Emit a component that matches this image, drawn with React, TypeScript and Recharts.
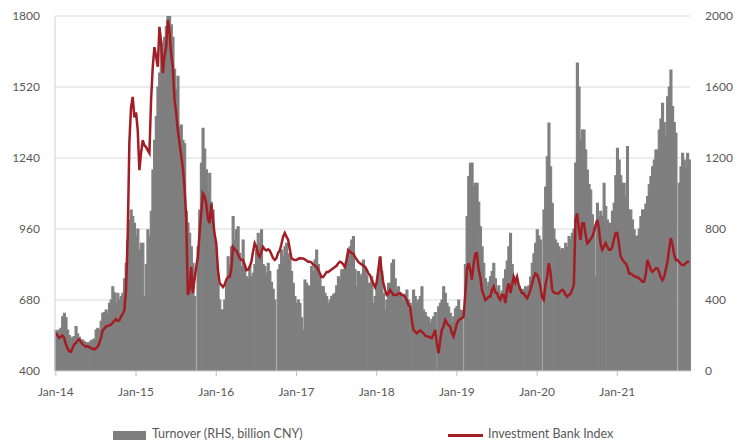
import { ComposedChart, Bar, Line, XAxis, YAxis, CartesianGrid } from "recharts";

// four readings per month (roughly weekly), Jan-14 .. Nov-21
const MONTHS = ["Jan", "Feb", "Mar", "Apr", "May", "Jun", "Jul", "Aug", "Sep", "Oct", "Nov", "Dec"];
const YEARS = ["14", "15", "16", "17", "18", "19", "20", "21"];

// turnover, billion CNY (right axis); null = market holiday gap
const turnover2014 = [230, 220, 231, 240, 306, 325, 300, 231, 200, 175, 190, 194, 250, 210, 190, 175, 175, 165, 160, 156, 160, 170, 175, 180, 231, 240, 231, 280, 325, 330, 344, 320, 381, 400, 475, 440, 381, 438, 400, 420, 438, 520, 607, 738, 850, 907, 870, 832];
const turnover2015 = [757, 800, 682, 720, 720, 419, 600, 795, 760, 900, 1132, 1300, 1433, 1600, 1678, 1847, 1700, 1880, 1940, 2000, 2000, 1950, 1880, 1700, 1585, 1660, 1375, 1385, 1300, 1280, 900, 833, 776, 700, 607, 419, null, 700, 907, 1170, 1367, 1250, 1133, 1000, 1114, 950, 907, 738];
const turnover2016 = [650, 494, 400, 344, 344, 400, 494, 644, 600, 700, 870, 738, 795, 813, 663, 588, 738, 588, 531, 520, 588, 530, 550, 600, 683, 776, 720, 795, 600, 588, 550, 607, 560, 500, 460, 400, null, 570, 600, 682, 645, 700, 720, 660, 626, 560, 494, 420];
const turnover2017 = [381, 400, 380, 300, 231, 513, 494, 480, 475, 588, 560, 625, 682, 600, 531, 475, 475, 438, 420, 381, 400, 419, 430, 438, 480, 531, 513, 570, 570, 588, 620, 663, 700, 738, 757, 570, 475, 560, 531, 545, 625, 570, 540, 494, 494, 531, 381, 420];
const turnover2018 = [494, 570, 645, 560, 438, 344, 400, 494, 494, 607, 626, 520, 456, 475, 440, 420, 400, 430, 456, 400, 381, 350, 456, 420, 381, 400, 420, 475, 344, 330, 306, 300, 268, 290, 306, 330, null, 362, 381, 400, 475, 438, 381, 360, 325, 268, 306, 350];
const turnover2019 = [363, 400, 344, 340, null, 600, 870, 1095, 1170, 1172, 1040, 1057, 1057, 950, 813, 700, 607, 520, 474, 500, 531, 560, 607, 520, 456, 480, 438, 450, 520, 570, 620, 700, 776, 600, 531, 494, 494, 480, 456, 460, 456, 475, 470, 480, 530, 607, 660, 720];
const turnover2020 = [795, 760, 738, null, 907, 1037, 1207, 1397, 1150, 945, 800, 738, 720, 700, 682, 690, 682, 720, 700, 757, 740, 776, 800, 1172, 1735, 1600, 1301, 1358, 1358, 1245, 1132, 1050, 1020, 880, 813, 531, 945, 870, 900, 870, 1057, 927, 850, 832, 832, 900, 945, 1100];
const turnover2021 = [1255, 1188, 1100, 1057, 1057, 983, 1264, 907, 907, 850, 795, 757, 760, 800, 870, 907, 907, 940, 983, 1050, 1095, 1150, 1188, 1245, 1245, 1358, 1420, 1508, 1400, 1320, 1545, 1600, 1696, 1490, 1400, 1339, null, 1057, 1150, 1226, 1188, 1132, 1226, 1188];

// investment bank index (left axis)
const bank2014 = [550, 540, 530, 535, 540, 530, 505, 490, 478, 476, 490, 505, 510, 520, 525, 515, 506, 500, 495, 498, 494, 490, 488, 485, 490, 495, 510, 530, 560, 568, 575, 578, 580, 583, 590, 598, 604, 598, 600, 615, 625, 640, 720, 930, 1300, 1440, 1481, 1400];
const bank2015 = [1420, 1350, 1192, 1260, 1310, 1290, 1283, 1270, 1259, 1470, 1600, 1677, 1640, 1600, 1757, 1700, 1575, 1640, 1677, 1784, 1740, 1650, 1600, 1470, 1420, 1350, 1300, 1250, 1200, 1126, 1007, 700, 720, 811, 707, 760, 811, 850, 944, 1020, 1100, 1090, 1060, 1000, 983, 1060, 1000, 940];
const bank2016 = [904, 800, 747, 740, 731, 740, 760, 771, 771, 800, 889, 880, 875, 860, 845, 838, 838, 820, 798, 800, 811, 830, 870, 904, 890, 860, 850, 870, 889, 880, 875, 880, 875, 860, 845, 838, 845, 865, 875, 900, 930, 944, 930, 918, 880, 844, 840, 838];
const bank2017 = [838, 842, 845, 844, 844, 840, 836, 831, 831, 828, 820, 815, 811, 800, 785, 771, 771, 780, 790, 790, 795, 800, 805, 810, 815, 825, 831, 828, 820, 811, 840, 877, 870, 865, 863, 850, 840, 830, 825, 820, 815, 811, 800, 785, 778, 760, 745, 731];
const bank2018 = [750, 800, 850, 790, 747, 720, 700, 705, 720, 710, 700, 700, 700, 705, 707, 700, 700, 690, 680, 660, 654, 600, 562, 555, 549, 555, 560, 555, 549, 540, 536, 536, 532, 530, 545, 562, 510, 470, 520, 562, 575, 601, 590, 580, 575, 550, 536, 560];
const bank2019 = [588, 600, 605, 608, 614, 700, 798, 825, 800, 760, 820, 863, 865, 800, 771, 720, 700, 680, 685, 693, 693, 720, 733, 710, 707, 690, 680, 700, 700, 668, 720, 746, 707, 740, 771, 750, 771, 740, 720, 707, 707, 695, 687, 700, 720, 746, 770, 785];
const bank2020 = [780, 760, 733, 690, 680, 740, 771, 825, 790, 720, 710, 707, 705, 707, 715, 720, 715, 700, 693, 700, 705, 720, 740, 1000, 1022, 960, 917, 983, 983, 940, 904, 910, 920, 930, 950, 975, 996, 960, 900, 878, 890, 904, 890, 878, 878, 890, 920, 944];
const bank2021 = [944, 900, 852, 840, 830, 825, 810, 785, 785, 780, 775, 771, 771, 765, 760, 752, 752, 780, 838, 820, 800, 791, 798, 805, 805, 790, 770, 758, 770, 800, 831, 880, 924, 900, 860, 838, 838, 830, 822, 818, 818, 825, 831, 831];

const turnover = [...turnover2014, ...turnover2015, ...turnover2016, ...turnover2017, ...turnover2018, ...turnover2019, ...turnover2020, ...turnover2021];
const bankIndex = [...bank2014, ...bank2015, ...bank2016, ...bank2017, ...bank2018, ...bank2019, ...bank2020, ...bank2021];

const periods: string[] = [];
YEARS.forEach((yy) => MONTHS.forEach((m) => [0, 1, 2, 3].forEach((q) => periods.push(`${m}-${yy}-${q}`))));

const data = bankIndex.map((v, i) => ({ key: periods[i], bank: v, turnover: turnover[i] }));
const janTicks = YEARS.map((yy) => `Jan-${yy}-0`);

const leftTicks = [400, 680, 960, 1240, 1520, 1800];
const rightTicks = [0, 400, 800, 1200, 1600, 2000];

const GRAY = "#7f7f7f";
const RED = "#a31d24";
const TEXT = "#595959";
const FONT = "Lato, 'Open Sans', sans-serif";

const App = () => {
  const tickStyle = { fill: TEXT, fontSize: 12, fontFamily: FONT };
  return (
    <div style={{ position: "relative", width: 738, height: 443, background: "#fff" }}>
      <style>{"body{margin:0}"}</style>
      <ComposedChart
        width={738}
        height={443}
        data={data}
        margin={{ top: 16, right: 0, bottom: 42, left: 0 }}
        barCategoryGap={0}
        barGap={0}
      >
        <CartesianGrid yAxisId="left" vertical={false} stroke="#d9d9d9" />
        <XAxis
          dataKey="key"
          ticks={janTicks}
          interval={0}
          height={30}
          tickFormatter={(k: string) => k.slice(0, 6)}
          tick={tickStyle}
          tickSize={5}
          tickMargin={11}
          stroke="#d9d9d9"
          tickLine={{ stroke: "#bfbfbf" }}
        />
        <YAxis
          yAxisId="left"
          domain={[400, 1800]}
          ticks={leftTicks}
          width={55}
          tick={tickStyle}
          tickLine={false}
          tickSize={0}
          tickMargin={15}
          axisLine={{ stroke: "#c3d3e9" }}
        />
        <YAxis
          yAxisId="right"
          orientation="right"
          domain={[0, 2000]}
          ticks={rightTicks}
          width={48}
          tick={tickStyle}
          tickLine={false}
          tickSize={0}
          tickMargin={15}
          axisLine={false}
          allowDataOverflow
        />
        <Bar
          yAxisId="right"
          dataKey="turnover"
          fill={GRAY}
          stroke={GRAY}
          strokeWidth={1.1}
          isAnimationActive={false}
        />
        <Line
          yAxisId="left"
          dataKey="bank"
          type="linear"
          stroke={RED}
          strokeWidth={2.5}
          dot={false}
          isAnimationActive={false}
        />
      </ComposedChart>
      <div
        style={{
          position: "absolute",
          top: 426,
          left: 0,
          width: 738,
          fontFamily: FONT,
          fontSize: 12.5,
          color: TEXT,
          lineHeight: "16px",
        }}
      >
        <span style={{ position: "absolute", left: 113, top: 5, width: 33, height: 9, background: GRAY }} />
        <span style={{ position: "absolute", left: 152, top: 0 }}>Turnover (RHS, billion CNY)</span>
        <span style={{ position: "absolute", left: 448, top: 8, width: 35, height: 2.5, background: RED }} />
        <span style={{ position: "absolute", left: 488, top: 0 }}>Investment Bank Index</span>
      </div>
    </div>
  );
};

export default App;
